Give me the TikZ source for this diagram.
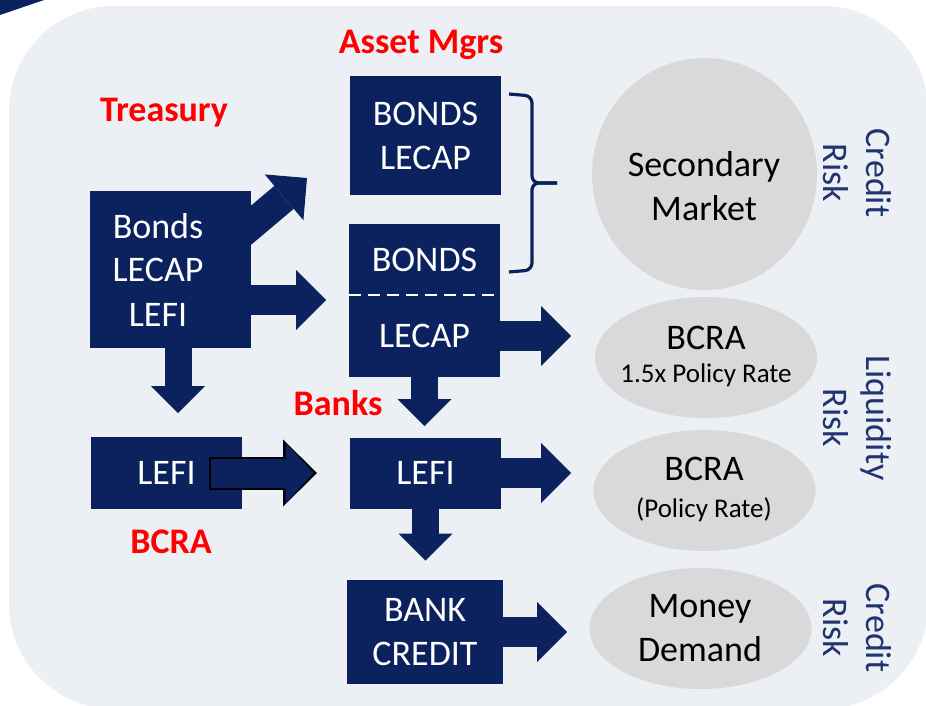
\documentclass[tikz,border=0pt]{standalone}
\usepackage{fontspec}
\setmainfont{Carlito}
\usetikzlibrary{arrows.meta,shapes.geometric}

\definecolor{navy}{RGB}{11,34,94}
\definecolor{panel}{RGB}{236,239,243}
\definecolor{bubblegrey}{RGB}{217,217,217}
\definecolor{riskblue}{RGB}{31,52,112}

\tikzset{
  box/.style={fill=navy, text=white, inner sep=0pt, align=center,
    font=\fontsize{36}{44}\selectfont},
  bubble/.style={ellipse, fill=bubblegrey, inner sep=0pt,
    minimum width=222pt, minimum height=121pt},
  txt/.style={align=center, font=\fontsize{36}{44}\selectfont},
  who/.style={text=red, anchor=base, font=\fontsize{36}{44}\selectfont\bfseries},
  risk/.style={text=riskblue, rotate=-90, align=center,
    font=\fontsize{36}{43}\selectfont},
  hblk/.style={navy, line width=30pt,
    -{Triangle[width=60pt,length=30pt,line width=0pt]}},
  vblk/.style={navy, line width=27pt,
    -{Triangle[width=54pt,length=27pt,line width=0pt]}},
}

\begin{document}
\begin{tikzpicture}[x=1pt,y=-1pt]
  \useasboundingbox (0,0) rectangle (926,706);
  \clip (0,0) rectangle (926,706);
  \fill[panel, rounded corners=105pt] (9,6) rectangle (928,709);
  \fill[navy] (0,0) -- (44,0) -- (0,15) -- cycle;

  % issuers and holders
  \node[box, minimum width=161pt, minimum height=157pt] (trs) at (170.5,269.5) {};
  \node[box, fill=none] (trsTxt) at (158,269.5) {Bonds\\LECAP\\LEFI};
  \node[box, minimum width=151pt, minimum height=119pt] (am1) at (425.5,135.5) {BONDS\\LECAP};
  \node[box, minimum width=151pt, minimum height=71pt] (amBonds) at (424.5,259.5) {BONDS};
  \node[box, minimum width=151pt, minimum height=82pt] (bkLecap) at (424.5,336) {LECAP};
  \node[box, minimum width=151pt, minimum height=72pt] (bcra) at (166.5,473) {LEFI};
  \node[box, minimum width=151pt, minimum height=71pt] (bkLefi) at (425.5,473) {LEFI};
  \node[box, minimum width=156pt, minimum height=104pt] (credit) at (425,632) {BANK\\CREDIT};
  \draw[white, line width=2pt, dash pattern=on 12pt off 7pt] (amBonds.south west) -- (amBonds.south east);

  \node[who] (treasury) at (164,122) {Treasury};
  \node[who] (assetMgrs) at (421,54) {Asset Mgrs};
  \node[who] (banks) at (338,415) {Banks};
  \node[who] (bcraLbl) at (171,553) {BCRA};

  % exits
  \node[bubble, minimum width=225pt, minimum height=232pt] (secMkt) at (704.5,174) {};
  \node[bubble] (bcraHi) at (706,357.5) {};
  \node[bubble] (bcraPol) at (704.5,490.5) {};
  \node[bubble] (money) at (700.5,628.5) {};
  \node[txt] (secMktTxt) at (704,186.5) {Secondary\\Market};
  \node[txt] (bcraHiTxt) at (706,356.5) {BCRA\\[-11pt]{\fontsize{27}{33}\selectfont 1.5x Policy Rate}};
  \node[txt] (bcraPolTxt) at (704,489.5) {BCRA\\[-7pt]{\fontsize{27}{33}\selectfont (Policy Rate)}};
  \node[txt] (moneyTxt) at (700,628.5) {Money\\Demand};

  \node[risk] (riskTop) at (857,173) {Credit\\Risk};
  \node[risk] (riskMid) at (857,418) {Liquidity\\Risk};
  \node[risk] (riskLow) at (857,628) {Credit\\Risk};

  % bracket round the tradable holdings
  \draw[navy, line width=3.2pt, rounded corners=7pt] (509,94) -- (532,96) -- (532,183) -- (557,183);
  \draw[navy, line width=3.2pt, rounded corners=7pt] (509,272) -- (532,270) -- (532,183) -- (557,183);

  % flows
  \coordinate (amTip) at (307,178);
  \coordinate (amIn) at (326,300);
  \coordinate (bcraIn) at (178,413);
  \coordinate (lefiIn) at (317,473);
  \draw[hblk] ([shift={(-21,52)}]trs.north east) -- (amTip);
  \draw[hblk] (trs.east |- amIn) -- (amIn);
  \draw[vblk] (trs.south -| bcraIn) -- (bcraIn);
  \draw[black, line width=33pt, -{Triangle[width=67pt,length=34pt,line width=0pt]}]
    ([xshift=42pt]bcra.center) -- (lefiIn);
  \draw[navy, line width=29pt, shorten <=2pt, shorten >=3.5pt,
    -{Triangle[width=61pt,length=28pt,line width=0pt]}]
    ([xshift=42pt]bcra.center) -- (lefiIn);
  \draw[hblk] (bkLecap.east) -- ++(71,0);
  \draw[vblk] (bkLecap.south) -- ++(0,49);
  \draw[hblk] (bkLefi.east) -- ++(70,0);
  \draw[vblk] (bkLefi.south) -- ++(0,52);
  \draw[hblk] (credit.east) -- ++(64,0);
\end{tikzpicture}
\end{document}
